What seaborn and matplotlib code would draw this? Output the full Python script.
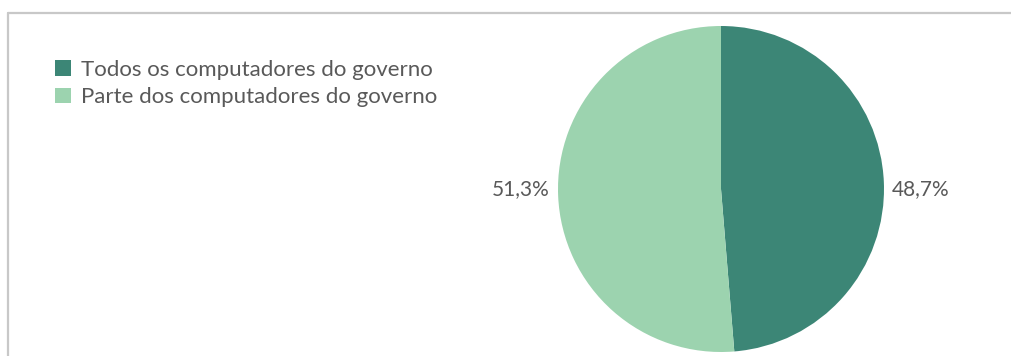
import matplotlib
matplotlib.use("Agg")
import matplotlib.pyplot as plt
import matplotlib.lines as mlines
from matplotlib.patches import Patch
import seaborn as sns

# Share of government computers covered
categories = ["Todos os computadores do governo", "Parte dos computadores do governo"]
shares = [48.7, 51.3]
colors = ["#3C8676", "#9CD3AF"]

sns.set_theme(style="white")
plt.rcParams["font.family"] = ["Lato", "DejaVu Sans"]
text_color = "#595959"

W, H = 1012, 356
fig = plt.figure(figsize=(W / 100, H / 100), dpi=100)
fig.patch.set_facecolor("white")

# Frame lines along the top and left edges of the chart area
frame_color = "#C8C8C8"
fig.add_artist(mlines.Line2D([8 / W, 1.0], [1 - 13 / H, 1 - 13 / H],
                             transform=fig.transFigure, color=frame_color, lw=1.6))
fig.add_artist(mlines.Line2D([8 / W, 8 / W], [0, 1 - 13 / H],
                             transform=fig.transFigure, color=frame_color, lw=1.6))

# Pie axes: centre (721, 189), radius 163 px
cx, cy, r = 721, 189, 163
ax = fig.add_axes([(cx - r) / W, (H - cy - r) / H, 2 * r / W, 2 * r / H])
wedges, texts = ax.pie(
    shares,
    colors=colors,
    startangle=90,
    counterclock=False,
    wedgeprops=dict(linewidth=0),
    labels=[f"{v:.1f}%".replace(".", ",") for v in shares],
    labeldistance=1.05,
    textprops=dict(color=text_color, fontsize=15),
)
for t in texts:
    t.set_va("center")
    x, y = t.get_position()
    t.set_position((x, 0.0))
ax.set_xlim(-1, 1)
ax.set_ylim(-1, 1)
ax.set_aspect("equal")
ax.axis("off")

handles = [Patch(facecolor=c, edgecolor="none") for c in colors]
fig.legend(
    handles, categories,
    loc="upper left",
    bbox_to_anchor=(55 / W, 1 - 60 / H),
    frameon=False,
    fontsize=16,
    labelcolor=text_color,
    handlelength=0.72,
    handleheight=0.72,
    handletextpad=0.45,
    labelspacing=0.33,
    borderpad=0,
    borderaxespad=0,
)

fig.savefig("out.png", dpi=100, facecolor="white")
